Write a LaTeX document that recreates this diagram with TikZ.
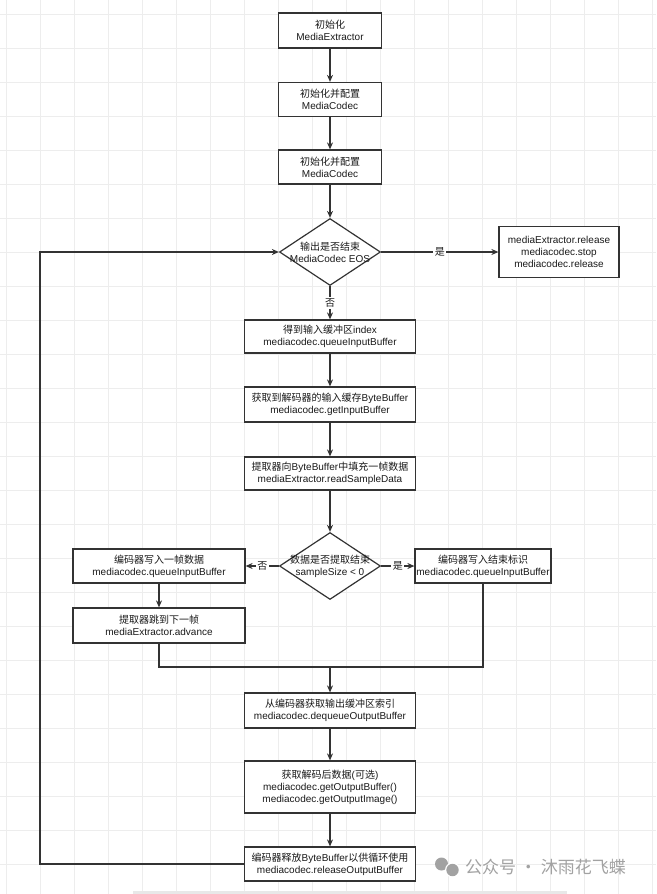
\documentclass[tikz,border=0pt]{standalone}
\usepackage{fontspec}
\setmainfont{Liberation Sans}
\newfontfamily\cjk{Noto Sans CJK SC}
\usetikzlibrary{shapes.geometric,arrows.meta}
\pgfdeclarelayer{gridlayer}
\pgfdeclarelayer{edgelayer}
\pgfdeclarelayer{nodelayer}
\pgfsetlayers{gridlayer,edgelayer,nodelayer,main}
\definecolor{linegray}{HTML}{333333}
\definecolor{textgray}{HTML}{1A1A1A}
\definecolor{markgray}{HTML}{A2A2A2}
\tikzset{font=\fontsize{10}{12}\selectfont}
\tikzstyle{none}=[inner sep=0pt,align=center,text=textgray]
\tikzstyle{box}=[rectangle,draw=linegray,line width=1.2pt,fill=white,inner sep=0pt,align=center,text=textgray]
\tikzstyle{decide}=[diamond,draw=linegray,line width=1.2pt,fill=white,inner sep=0pt,minimum width=101pt,minimum height=67pt]
\tikzstyle{flow}=[draw=linegray,line width=1.2pt]
\tikzstyle{tip}=[-{Stealth[length=7pt,width=6pt]}]
\tikzstyle{yesno}=[fill=white,inner sep=1.5pt,text=textgray]
\tikzstyle{gridline}=[draw=black!7,line width=1pt]

\begin{document}
\begin{tikzpicture}[x=1pt,y=-1pt]
	\useasboundingbox (0,0) rectangle (656,894);
	\begin{pgfonlayer}{gridlayer}
		\fill[white] (0,0) rectangle (656,894);
		\foreach \gx in {6,40,...,656} \draw[gridline] (\gx,0) -- (\gx,894);
		\foreach \gy in {14,48,...,894} \draw[gridline] (0,\gy) -- (656,\gy);
		\fill[black!9] (133,891) rectangle (567,894);
	\end{pgfonlayer}
	\begin{pgfonlayer}{nodelayer}
		\node [style=box, minimum width=103pt, minimum height=35pt] (0) at (330, 30.5) {{\cjk 初始化}\\MediaExtractor};
		\node [style=box, minimum width=103pt, minimum height=34pt] (1) at (330, 99.5) {{\cjk 初始化并配置}\\MediaCodec};
		\node [style=box, minimum width=103pt, minimum height=34pt] (2) at (330, 167) {{\cjk 初始化并配置}\\MediaCodec};
		\node [style=decide] (3) at (330, 252) {};
		\node [style=none] (4) at (330, 252) {{\cjk 输出是否结束}\\MediaCodec EOS};
		\node [style=box, minimum width=120pt, minimum height=51pt] (5) at (559, 252) {mediaExtractor.release\\mediacodec.stop\\mediacodec.release};
		\node [style=box, minimum width=171pt, minimum height=33pt] (6) at (330, 336.5) {{\cjk 得到输入缓冲区}index\\mediacodec.queueInputBuffer};
		\node [style=box, minimum width=171pt, minimum height=35pt] (7) at (330, 404.5) {{\cjk 获取到解码器的输入缓存}ByteBuffer\\mediacodec.getInputBuffer};
		\node [style=box, minimum width=171pt, minimum height=33pt] (8) at (330, 473.5) {{\cjk 提取器向}ByteBuffer{\cjk 中填充一帧数据}\\mediaExtractor.readSampleData};
		\node [style=decide] (9) at (330, 566) {};
		\node [style=none] (10) at (330, 566) {{\cjk 数据是否提取结束}\\sampleSize \textless{} 0};
		\node [style=box, minimum width=172pt, minimum height=34pt] (11) at (159, 566) {{\cjk 编码器写入一帧数据}\\mediacodec.queueInputBuffer};
		\node [style=box, minimum width=172pt, minimum height=35pt] (12) at (159, 625.5) {{\cjk 提取器跳到下一帧}\\mediaExtractor.advance};
		\node [style=box, minimum width=136pt, minimum height=34pt] (13) at (483, 566) {{\cjk 编码器写入结束标识}\\mediacodec.queueInputBuffer};
		\node [style=box, minimum width=171pt, minimum height=35pt] (14) at (330, 710.5) {{\cjk 从编码器获取输出缓冲区索引}\\mediacodec.dequeueOutputBuffer};
		\node [style=box, minimum width=171pt, minimum height=52pt] (15) at (330, 787) {{\cjk 获取解码后数据}({\cjk 可选})\\mediacodec.getOutputBuffer()\\mediacodec.getOutputImage()};
		\node [style=box, minimum width=171pt, minimum height=34pt] (16) at (330, 864) {{\cjk 编码器释放}ByteBuffer{\cjk 以供循环使用}\\mediacodec.releaseOutputBuffer};
		\coordinate (17) at (330, 667);
		\coordinate (18) at (40, 252);
		% watermark
		\fill[markgray] (441.5, 864) circle (6.5pt);
		\fill[white] (452.5, 870) circle (7.5pt);
		\fill[markgray] (452.5, 870) circle (6.2pt);
		\node [style=none, text=markgray, font=\fontsize{17}{19}\cjk, anchor=west] (19) at (465, 867) {公众号 · 沐雨花飞蝶};
	\end{pgfonlayer}
	\begin{pgfonlayer}{edgelayer}
		\draw[style=flow, style=tip] (0) to (1);
		\draw[style=flow, style=tip] (1) to (2);
		\draw[style=flow, style=tip] (2) to (3.north);
		\draw[style=flow, style=tip] (3.east) to node[style=yesno] {\cjk 是} (5.west);
		\draw[style=flow, style=tip] (3.south) to node[style=yesno] {\cjk 否} (6.north);
		\draw[style=flow, style=tip] (6) to (7);
		\draw[style=flow, style=tip] (7) to (8);
		\draw[style=flow, style=tip] (8.south) to (9.north);
		\draw[style=flow, style=tip] (9.west) to node[style=yesno] {\cjk 否} (11.east);
		\draw[style=flow, style=tip] (9.east) to node[style=yesno] {\cjk 是} (13.west);
		\draw[style=flow, style=tip] (11) to (12);
		\draw[style=flow] (12.south) |- (17);
		\draw[style=flow] (13.south) |- (17);
		\draw[style=flow, style=tip] (17) to (14.north);
		\draw[style=flow, style=tip] (14) to (15);
		\draw[style=flow, style=tip] (15) to (16);
		\draw[style=flow, style=tip] (16.west) -| (18) to (3.west);
	\end{pgfonlayer}
\end{tikzpicture}
\end{document}
